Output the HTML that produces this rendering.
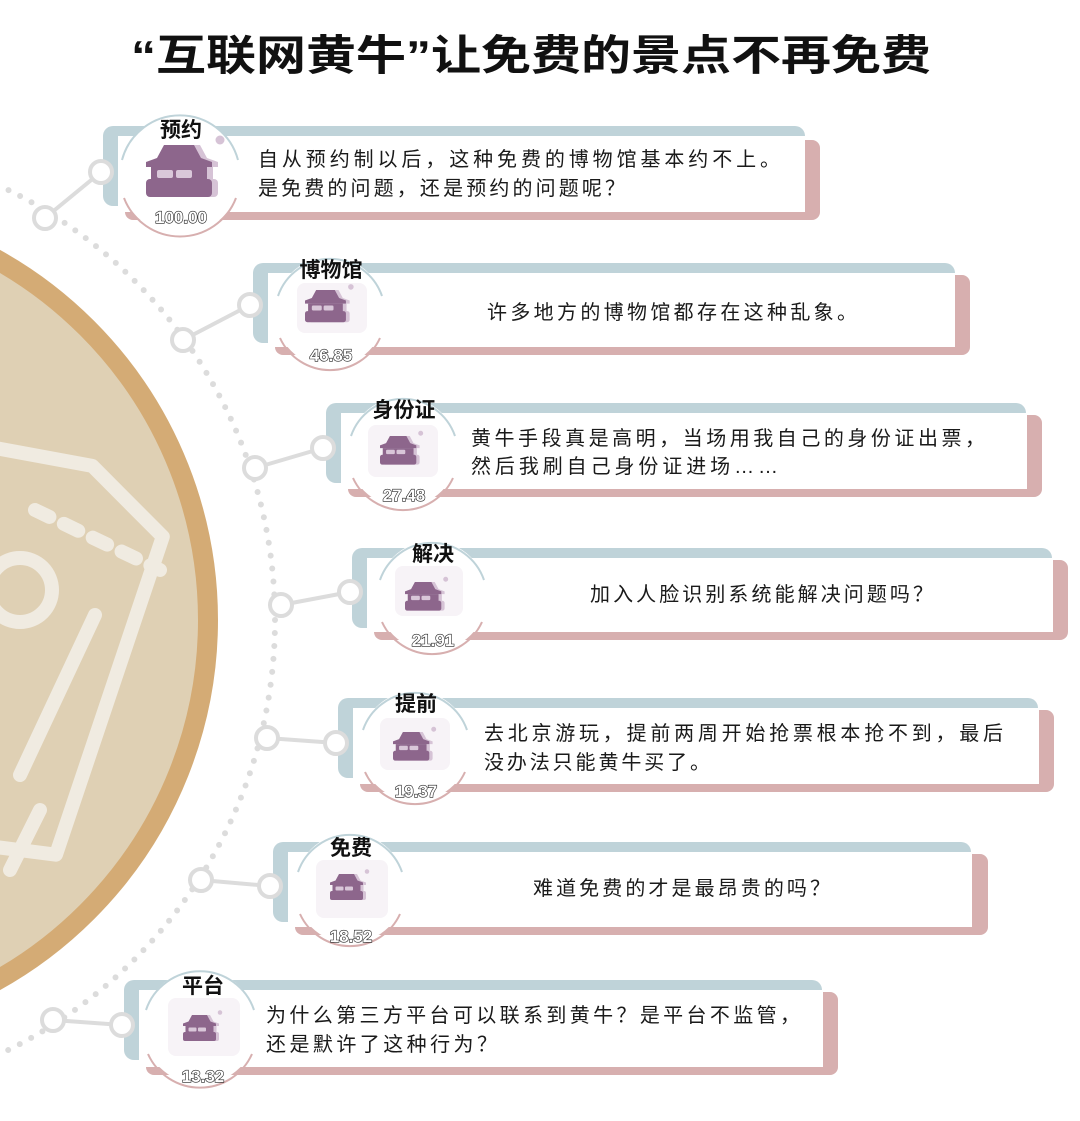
<!DOCTYPE html>
<html><head><meta charset="utf-8">
<style>
html,body{margin:0;padding:0;background:#fff;}
svg{display:block;}
text{font-family:"Liberation Sans","WenQuanYi Zen Hei","Noto Sans CJK SC",sans-serif;}
.t{font-size:20px;fill:#1a1a1a;}
.lb{font-size:21px;font-weight:bold;fill:#111;}
.nm{font-size:17px;font-weight:bold;fill:#fff;stroke:#222;stroke-width:1.2px;paint-order:stroke;}
</style></head>
<body>
<svg width="1080" height="1121" viewBox="0 0 1080 1121" xmlns="http://www.w3.org/2000/svg">
<defs>
  <g id="ic">
    <g fill="#d6c3d6" transform="translate(6,0)">
      <path d="M18 0 H48 L55 13 L66 17 V22 H0 V17 L11 13 Z"/>
      <rect x="5" y="22" width="56" height="13"/>
      <rect x="0" y="34" width="66" height="18" rx="4"/>
    </g>
    <circle cx="74" cy="-5" r="4.5" fill="#d6c3d6"/>
    <g fill="#8d668c">
      <path d="M18 0 H48 L55 13 L66 17 V22 H0 V17 L11 13 Z"/>
      <rect x="5" y="22" width="56" height="13"/>
      <rect x="0" y="34" width="66" height="18" rx="4"/>
    </g>
    <rect x="11" y="25" width="16" height="8" rx="2" fill="#d9c7d9"/>
    <rect x="30" y="25" width="16" height="8" rx="2" fill="#d9c7d9"/>
  </g>
</defs>

<circle cx="-205" cy="620" r="413" fill="#dfd0b4" stroke="#d4ab75" stroke-width="20"/>
<g stroke="#f0ebe1" stroke-width="14" fill="none" stroke-linecap="round" stroke-linejoin="round">
  <path d="M-40 430 L110 480 L170 560 L20 860 L-200 800" transform="rotate(-8 0 600)"/>
  <path d="M-20 440 L-20 500"/>
  <path d="M35 510 L160 570" stroke-dasharray="16 16"/>
  <circle cx="20" cy="590" r="32"/>
  <path d="M95 615 L20 775"/>
  <path d="M40 810 L10 870"/>
</g>
<circle cx="-205" cy="620" r="480" fill="none" stroke="#dcdcdc" stroke-width="6" stroke-linecap="round" stroke-dasharray="0 13"/>

<text x="531" y="70" text-anchor="middle" font-size="42" font-weight="bold" fill="#111" textLength="800" lengthAdjust="spacingAndGlyphs">“互联网黄牛”让免费的景点不再免费</text>

<g stroke="#dcdcdc" stroke-width="4" fill="#fff">
  <line x1="101" y1="172" x2="45" y2="218"/>
  <line x1="250" y1="305" x2="183" y2="340"/>
  <line x1="323" y1="448" x2="255" y2="468"/>
  <line x1="350" y1="592" x2="281" y2="605"/>
  <line x1="336" y1="743" x2="267" y2="738"/>
  <line x1="270" y1="886" x2="201" y2="880"/>
  <line x1="122" y1="1025" x2="53" y2="1020"/>
  <circle cx="45" cy="218" r="11"/><circle cx="183" cy="340" r="11"/>
  <circle cx="255" cy="468" r="11"/><circle cx="281" cy="605" r="11"/>
  <circle cx="267" cy="738" r="11"/><circle cx="201" cy="880" r="11"/>
  <circle cx="53" cy="1020" r="11"/>
</g>

<g>
  <rect x="103" y="126" width="702" height="80" rx="10" fill="#bfd3d9"/>
  <rect x="125" y="140" width="695" height="80" rx="8" fill="#d7afaf"/>
  <rect x="118" y="136" width="687" height="76" fill="#fff"/>
  <circle cx="101" cy="172" r="11" fill="#fff" stroke="#dcdcdc" stroke-width="4"/>
  <circle cx="180" cy="175" r="60" fill="#fff"/>
  <path d="M122 160 A60 60 0 0 1 238 160" fill="none" stroke="#bfd3d9" stroke-width="2"/>
  <path d="M124 198 A60 60 0 0 0 236 198" fill="none" stroke="#d7afaf" stroke-width="2"/>
  <use href="#ic" transform="translate(146,145)"/>
  <text class="lb" x="181" y="137" text-anchor="middle">预约</text>
  <text class="nm" x="181" y="223" text-anchor="middle">100.00</text>
  <text class="t" x="258" y="166" textLength="522" lengthAdjust="spacing">自从预约制以后，这种免费的博物馆基本约不上。</text>
  <text class="t" x="258" y="195" textLength="367" lengthAdjust="spacing">是免费的问题，还是预约的问题呢？</text>
</g>
<g>
  <rect x="253" y="263" width="702" height="80" rx="10" fill="#bfd3d9"/>
  <rect x="275" y="275" width="695" height="80" rx="8" fill="#d7afaf"/>
  <rect x="268" y="273" width="687" height="74" fill="#fff"/>
  <circle cx="250" cy="305" r="11" fill="#fff" stroke="#dcdcdc" stroke-width="4"/>
  <circle cx="330" cy="312" r="55" fill="#fff"/>
  <path d="M278 296 A55 55 0 0 1 382 296" fill="none" stroke="#bfd3d9" stroke-width="2"/>
  <path d="M280 338 A55 55 0 0 0 380 338" fill="none" stroke="#d7afaf" stroke-width="2"/>
  <rect x="297" y="283" width="70" height="50" rx="8" fill="#f7f3f7"/>
  <use href="#ic" transform="translate(305,290) scale(0.62)"/>
  <text class="lb" x="331" y="277" text-anchor="middle">博物馆</text>
  <text class="nm" x="331" y="361" text-anchor="middle">46.85</text>
  <text class="t" x="487" y="319" textLength="370" lengthAdjust="spacing">许多地方的博物馆都存在这种乱象。</text>
</g>
<g>
  <rect x="326" y="403" width="700" height="80" rx="10" fill="#bfd3d9"/>
  <rect x="348" y="415" width="694" height="82" rx="8" fill="#d7afaf"/>
  <rect x="341" y="413" width="686" height="76" fill="#fff"/>
  <circle cx="323" cy="448" r="11" fill="#fff" stroke="#dcdcdc" stroke-width="4"/>
  <circle cx="403" cy="452" r="55" fill="#fff"/>
  <path d="M351 436 A55 55 0 0 1 455 436" fill="none" stroke="#bfd3d9" stroke-width="2"/>
  <path d="M353 478 A55 55 0 0 0 453 478" fill="none" stroke="#d7afaf" stroke-width="2"/>
  <rect x="368" y="425" width="70" height="52" rx="8" fill="#f7f3f7"/>
  <use href="#ic" transform="translate(380,436) scale(0.55)"/>
  <text class="lb" x="404" y="417" text-anchor="middle">身份证</text>
  <text class="nm" x="404" y="501" text-anchor="middle">27.48</text>
  <text class="t" x="471" y="445" textLength="514" lengthAdjust="spacing">黄牛手段真是高明，当场用我自己的身份证出票，</text>
  <text class="t" x="471" y="473" textLength="307" lengthAdjust="spacing">然后我刷自己身份证进场……</text>
</g>
<g>
  <rect x="352" y="548" width="700" height="80" rx="10" fill="#bfd3d9"/>
  <rect x="374" y="560" width="694" height="80" rx="8" fill="#d7afaf"/>
  <rect x="367" y="558" width="686" height="74" fill="#fff"/>
  <circle cx="350" cy="592" r="11" fill="#fff" stroke="#dcdcdc" stroke-width="4"/>
  <circle cx="432" cy="596" r="55" fill="#fff"/>
  <path d="M380 580 A55 55 0 0 1 484 580" fill="none" stroke="#bfd3d9" stroke-width="2"/>
  <path d="M382 622 A55 55 0 0 0 482 622" fill="none" stroke="#d7afaf" stroke-width="2"/>
  <rect x="395" y="566" width="68" height="50" rx="8" fill="#f7f3f7"/>
  <use href="#ic" transform="translate(405,582) scale(0.55)"/>
  <text class="lb" x="433" y="561" text-anchor="middle">解决</text>
  <text class="nm" x="433" y="646" text-anchor="middle">21.91</text>
  <text class="t" x="590" y="601" textLength="343" lengthAdjust="spacing">加入人脸识别系统能解决问题吗？</text>
</g>
<g>
  <rect x="338" y="698" width="700" height="80" rx="10" fill="#bfd3d9"/>
  <rect x="360" y="710" width="694" height="82" rx="8" fill="#d7afaf"/>
  <rect x="353" y="708" width="686" height="76" fill="#fff"/>
  <circle cx="336" cy="743" r="11" fill="#fff" stroke="#dcdcdc" stroke-width="4"/>
  <circle cx="415" cy="746" r="55" fill="#fff"/>
  <path d="M363 730 A55 55 0 0 1 467 730" fill="none" stroke="#bfd3d9" stroke-width="2"/>
  <path d="M365 772 A55 55 0 0 0 465 772" fill="none" stroke="#d7afaf" stroke-width="2"/>
  <rect x="380" y="718" width="70" height="52" rx="8" fill="#f7f3f7"/>
  <use href="#ic" transform="translate(393,732) scale(0.55)"/>
  <text class="lb" x="416" y="711" text-anchor="middle">提前</text>
  <text class="nm" x="416" y="797" text-anchor="middle">19.37</text>
  <text class="t" x="484" y="740" textLength="519" lengthAdjust="spacing">去北京游玩，提前两周开始抢票根本抢不到，最后</text>
  <text class="t" x="484" y="769" textLength="226" lengthAdjust="spacing">没办法只能黄牛买了。</text>
</g>
<g>
  <rect x="273" y="842" width="698" height="80" rx="10" fill="#bfd3d9"/>
  <rect x="295" y="854" width="693" height="81" rx="8" fill="#d7afaf"/>
  <rect x="288" y="852" width="684" height="75" fill="#fff"/>
  <circle cx="270" cy="886" r="11" fill="#fff" stroke="#dcdcdc" stroke-width="4"/>
  <circle cx="350" cy="888" r="55" fill="#fff"/>
  <path d="M298 872 A55 55 0 0 1 402 872" fill="none" stroke="#bfd3d9" stroke-width="2"/>
  <path d="M300 914 A55 55 0 0 0 400 914" fill="none" stroke="#d7afaf" stroke-width="2"/>
  <rect x="316" y="860" width="72" height="58" rx="8" fill="#f7f3f7"/>
  <use href="#ic" transform="translate(330,874) scale(0.5)"/>
  <text class="lb" x="351" y="855" text-anchor="middle">免费</text>
  <text class="nm" x="351" y="942" text-anchor="middle">18.52</text>
  <text class="t" x="533" y="895" textLength="297" lengthAdjust="spacing">难道免费的才是最昂贵的吗？</text>
</g>
<g>
  <rect x="124" y="980" width="698" height="80" rx="10" fill="#bfd3d9"/>
  <rect x="146" y="992" width="692" height="83" rx="8" fill="#d7afaf"/>
  <rect x="139" y="990" width="684" height="77" fill="#fff"/>
  <circle cx="122" cy="1025" r="11" fill="#fff" stroke="#dcdcdc" stroke-width="4"/>
  <circle cx="200" cy="1027" r="57" fill="#fff"/>
  <path d="M146 1010 A57 57 0 0 1 254 1010" fill="none" stroke="#bfd3d9" stroke-width="2"/>
  <path d="M148 1054 A57 57 0 0 0 252 1054" fill="none" stroke="#d7afaf" stroke-width="2"/>
  <rect x="168" y="998" width="72" height="58" rx="8" fill="#f7f3f7"/>
  <use href="#ic" transform="translate(183,1015) scale(0.5)"/>
  <text class="lb" x="203" y="993" text-anchor="middle">平台</text>
  <text class="nm" x="203" y="1082" text-anchor="middle">13.32</text>
  <text class="t" x="266" y="1022" textLength="534" lengthAdjust="spacing">为什么第三方平台可以联系到黄牛？是平台不监管，</text>
  <text class="t" x="266" y="1051" textLength="231" lengthAdjust="spacing">还是默许了这种行为？</text>
</g>
</svg>
</body></html>
